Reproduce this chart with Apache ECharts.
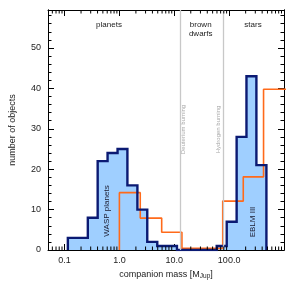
<!DOCTYPE html>
<html>
<head>
<meta charset="utf-8">
<script src="https://cdn.jsdelivr.net/npm/echarts@6/dist/echarts.min.js"></script>
<style>
html,body{margin:0;padding:0;background:#fff;}
#c{width:293px;height:286px;}
</style>
</head>
<body>
<div id="c"></div>
<script>
// ---- data ----
const blueEdges = [0.115, 0.175, 0.266, 0.402, 0.609, 0.926, 1.40, 2.13, 3.22, 4.90, 7.42, 11.2, 17.1, 25.9, 39.2, 59.4, 90.4, 137, 207, 314, 478];
const blueCounts = [3, 3, 8, 22, 24, 25, 16, 10, 2, 1, 1, 0, 0, 0, 0, 1, 7, 28, 43, 21];
const orangeEdges = [1.0, 2.4, 5.9, 13.8, 32.7, 76.4, 181, 424, 1500];
const orangeValues = [14.2, 7.9, 4.4, 0.4, 0.4, 12.1, 18.1, 39.8];
const burningLimits = [13, 78];
const xMajorTickLabels = [0.1, 1, 10, 100];
const xMinorTicks = [0.06, 0.07, 0.08, 0.09, 0.2, 0.3, 0.4, 0.5, 0.6, 0.7, 0.8, 0.9,
  2, 3, 4, 5, 6, 7, 8, 9, 20, 30, 40, 50, 60, 70, 80, 90, 200, 300, 400, 500, 600, 700, 800, 900];
const X_MIN = 0.05, X_MAX = 1000, Y_MAX = 59.4;

function stepPoints(edges, vals, closeEnd) {
  const pts = [[edges[0], 0]];
  for (let i = 0; i < vals.length; i++) {
    pts.push([edges[i], vals[i]]);
    pts.push([edges[i + 1], vals[i]]);
  }
  if (closeEnd) pts.push([edges[edges.length - 1], 0]);
  return pts;
}
const bluePts = stepPoints(blueEdges, blueCounts, true);
const orangePts = stepPoints(orangeEdges, orangeValues, true);

const FONT = 'Liberation Sans';
const chart = echarts.init(document.getElementById('c'), null, {renderer: 'canvas'});

function xAxisBase(pos) {
  return {
    type: 'log', logBase: 10, min: X_MIN, max: X_MAX, position: pos, gridIndex: 0,
    axisLine: {show: true, onZero: false, lineStyle: {color: '#000', width: 1}},
    axisTick: {show: true, inside: true, length: 6, lineStyle: {color: '#000', width: 1}},
    splitLine: {show: false}, minorTick: {show: false}, minorSplitLine: {show: false}
  };
}
function yAxisBase(pos, interval, len, labels) {
  return {
    type: 'value', min: 0, max: Y_MAX, interval: interval, position: pos, gridIndex: 0,
    axisLine: {show: true, onZero: false, lineStyle: {color: '#000', width: 1}},
    axisTick: {show: true, inside: true, length: len, lineStyle: {color: '#000', width: 1}},
    axisLabel: labels ? {
      show: true, fontSize: 9, fontFamily: FONT, color: '#222', margin: 7,
      formatter: v => (Math.abs(v % 10) < 1e-6 ? String(v) : '')
    } : {show: false},
    splitLine: {show: false}
  };
}

const xb = xAxisBase('bottom');
xb.axisLabel = {
  show: true, fontSize: 9, fontFamily: FONT, color: '#222', margin: 6,
  formatter: v => {
    for (const t of xMajorTickLabels) if (Math.abs(Math.log10(v) - Math.log10(t)) < 1e-3) return t.toFixed(1);
    return '';
  }
};
xb.name = 'companion mass [M{sub|Jup}]';
xb.nameLocation = 'middle';
xb.nameGap = 14;
xb.nameTextStyle = {
  fontSize: 9, fontFamily: FONT, color: '#222', verticalAlign: 'top',
  rich: {sub: {fontSize: 6.5, fontFamily: FONT, color: '#222', padding: [4, 0, 0, 0]}}
};
const xt = xAxisBase('top');
xt.axisLabel = {show: false};

const y0 = yAxisBase('left', 10, 6, true);
y0.name = 'number of objects';
y0.nameLocation = 'middle';
y0.nameGap = 31;
y0.nameTextStyle = {fontSize: 9, fontFamily: FONT, color: '#222'};

const option = {
  animation: false,
  backgroundColor: '#fff',
  grid: {left: 44, right: 9, top: 10, bottom: 36, containLabel: false},
  xAxis: [xb, xt],
  yAxis: [y0, yAxisBase('left', 2, 3.5, false), yAxisBase('right', 10, 6, false), yAxisBase('right', 2, 3.5, false)],
  series: [
    {
      type: 'line', data: [], xAxisIndex: 0, yAxisIndex: 0, z: 0, silent: true,
      markLine: {
        silent: true, symbol: 'none', animation: false,
        lineStyle: {color: '#c8c8c8', type: 'solid', width: 1.3},
        label: {show: false},
        data: burningLimits.map(v => ({xAxis: v}))
      }
    },
    {
      name: 'fill', type: 'line', data: bluePts, xAxisIndex: 0, yAxisIndex: 0, z: 1,
      showSymbol: false, symbol: 'none', silent: true,
      lineStyle: {width: 0, opacity: 0},
      areaStyle: {color: '#9fcfff', opacity: 1, origin: 'start'}
    },
    {
      name: 'orange', type: 'line', data: orangePts, xAxisIndex: 0, yAxisIndex: 0, z: 2,
      showSymbol: false, symbol: 'none', silent: true,
      lineStyle: {color: '#ff6a1a', width: 1.6}
    },
    {
      name: 'outline', type: 'line', data: bluePts, xAxisIndex: 0, yAxisIndex: 0, z: 3,
      showSymbol: false, symbol: 'none', silent: true,
      lineStyle: {color: '#0b1a73', width: 2.4, join: 'miter'}
    },
    {
      type: 'custom', xAxisIndex: 0, yAxisIndex: 0, z: 10, silent: true,
      data: xMinorTicks.map(v => [v, 0]),
      encode: {x: 0, y: 1},
      renderItem: function (params, api) {
        const v = api.value(0);
        const pb = api.coord([v, 0]);
        const pt = api.coord([v, Y_MAX]);
        const st = {stroke: '#000', lineWidth: 1};
        return {
          type: 'group', children: [
            {type: 'line', shape: {x1: pb[0], y1: pb[1], x2: pb[0], y2: pb[1] - 3.5}, style: st},
            {type: 'line', shape: {x1: pt[0], y1: pt[1], x2: pt[0], y2: pt[1] + 3.5}, style: st}
          ]
        };
      }
    }
  ],
  graphic: [
    {type: 'text', x: 109, y: 25, z: 20, style: {text: 'planets', fontSize: 8, fontFamily: FONT, fill: '#222', align: 'center', verticalAlign: 'middle'}},
    {type: 'text', x: 200.7, y: 29.5, z: 20, style: {text: 'brown\ndwarfs', fontSize: 8, lineHeight: 9, fontFamily: FONT, fill: '#222', align: 'center', verticalAlign: 'middle'}},
    {type: 'text', x: 253, y: 25, z: 20, style: {text: 'stars', fontSize: 8, fontFamily: FONT, fill: '#222', align: 'center', verticalAlign: 'middle'}},
    {type: 'text', x: 106.7, y: 211, rotation: Math.PI / 2, z: 20, style: {text: 'WASP planets', fontSize: 8, fontFamily: FONT, fill: '#1a1a2e', align: 'center', verticalAlign: 'middle'}},
    {type: 'text', x: 252.7, y: 222, rotation: Math.PI / 2, z: 20, style: {text: 'EBLM III', fontSize: 8, fontFamily: FONT, fill: '#1a1a2e', align: 'center', verticalAlign: 'middle'}},
    {type: 'text', x: 183.5, y: 129.5, rotation: Math.PI / 2, z: 20, style: {text: 'Deuterium burning', fontSize: 6, fontFamily: FONT, fill: '#aaaaaa', align: 'center', verticalAlign: 'middle'}},
    {type: 'text', x: 218.5, y: 129.5, rotation: Math.PI / 2, z: 20, style: {text: 'Hydrogen burning', fontSize: 6, fontFamily: FONT, fill: '#aaaaaa', align: 'center', verticalAlign: 'middle'}}
  ]
};
chart.setOption(option);
</script>
</body>
</html>
